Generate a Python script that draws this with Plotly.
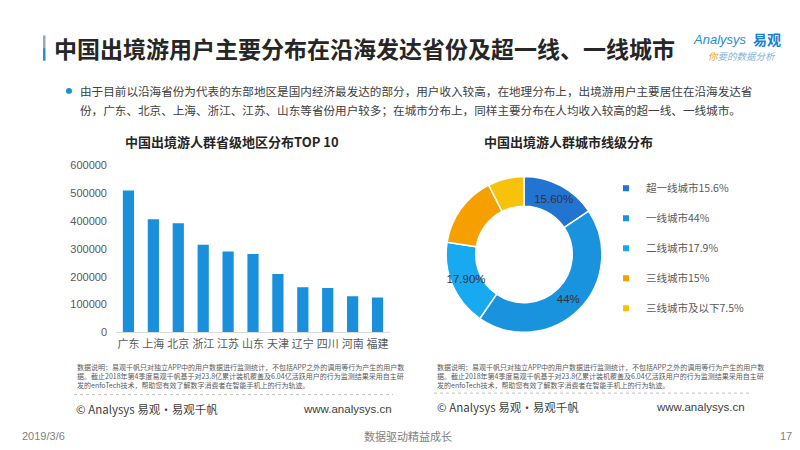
import plotly.graph_objects as go

# ---------------- data ----------------
provinces = ["广东", "上海", "北京", "浙江", "江苏", "山东", "天津", "辽宁", "四川", "河南", "福建"]
province_users = [510000, 407000, 392000, 315000, 291000, 282000, 210000, 162000, 159000, 130000, 125000]
y_tick_values = [0, 100000, 200000, 300000, 400000, 500000, 600000]

tier_labels = ["超一线城市15.6%", "一线城市44%", "二线城市17.9%", "三线城市15%", "三线城市及以下7.5%"]
tier_shares = [15.6, 44, 17.9, 15, 7.5]
tier_slice_text = ["15.60%", "44%", "17.90%", "", ""]
tier_colors = ["#2174d0", "#1a93df", "#17aaf0", "#f5a000", "#f8c20a"]

bar_title = "中国出境游人群省级地区分布TOP 10"
pie_title = "中国出境游人群城市线级分布"
main_title = "中国出境游用户主要分布在沿海发达省份及超一线、一线城市"
bullet_lines = [
    "由于目前以沿海省份为代表的东部地区是国内经济最发达的部分，用户收入较高，在地理分布上，出境游用户主要居住在沿海发达省",
    "份，广东、北京、上海、浙江、江苏、山东等省份用户较多；在城市分布上，同样主要分布在人均收入较高的超一线、一线城市。",
]
note_lines = [
    "数据说明：易观千帆只对独立APP中的用户数据进行监测统计，不包括APP之外的调用等行为产生的用户数",
    "据。截止2018年第4季度易观千帆基于对23.8亿累计装机覆盖及6.04亿活跃用户的行为监测结果采用自主研",
    "发的enfoTech技术，帮助您有效了解数字消费者在智能手机上的行为轨迹。",
]

W, H = 800, 450
def px(v):
    return v / W
def py(v):
    return 1 - v / H

CJK = "Noto Sans CJK SC, Liberation Sans, sans-serif"
NUM = "Liberation Sans, Noto Sans CJK SC, sans-serif"

fig = go.Figure()

fig.add_trace(go.Bar(
    x=provinces, y=province_users,
    marker=dict(color="#1a8fdc", line=dict(width=0)),
    showlegend=False, hoverinfo="x+y",
))

fig.add_trace(go.Pie(
    labels=tier_labels, values=tier_shares,
    text=tier_slice_text, textinfo="text",
    textposition="inside", insidetextorientation="horizontal",
    textfont=dict(size=11.5, color="#333333", family=NUM),
    marker=dict(colors=tier_colors, line=dict(color="white", width=1.5)),
    hole=0.62, sort=False, direction="clockwise", rotation=0,
    domain=dict(x=[px(436), px(596)], y=[py(327), py(167)]),
    showlegend=False,
))

# legend entries (one group per tier so they can be spaced like the original)
for i, (lab, col) in enumerate(zip(tier_labels, tier_colors)):
    fig.add_trace(go.Scatter(
        x=[None], y=[None], mode="markers", name=lab,
        marker=dict(symbol="square", size=6, color=col),
        legendgroup=f"g{i}", showlegend=True, hoverinfo="skip",
    ))

fig.update_layout(
    width=W, height=H,
    margin=dict(l=0, r=0, t=0, b=0),
    paper_bgcolor="white", plot_bgcolor="white",
    font=dict(family=NUM, color="#595959"),
    bargap=0.55,
    uniformtext=dict(minsize=11, mode="show"),
    xaxis=dict(
        domain=[px(108), px(382)], type="category",
        showline=True, linecolor="#d9d9d9", linewidth=1,
        showgrid=False, zeroline=False, ticks="",
        tickfont=dict(size=11, color="#595959", family=CJK),
        ticklabelstandoff=2, fixedrange=True,
    ),
    yaxis=dict(
        domain=[py(327), py(155.7)], range=[0, 600000],
        tickvals=y_tick_values, tickformat="d",
        showline=False, showgrid=False, zeroline=False, ticks="",
        tickfont=dict(size=11, color="#595959", family=NUM),
        ticklabelstandoff=8, fixedrange=True,
    ),
    legend=dict(
        x=px(598), y=py(164), xanchor="left", yanchor="top",
        tracegroupgap=11, bgcolor="rgba(0,0,0,0)",
        font=dict(size=10.5, color="#595959", family=CJK),
        itemclick=False, itemdoubleclick=False,
    ),
)

shapes = [
    # title accent bar
    dict(type="rect", xref="paper", yref="paper", x0=px(35), x1=px(37.5), y0=py(35), y1=py(22),
         fillcolor="#9aa6b2", line=dict(width=0)),
    dict(type="rect", xref="paper", yref="paper", x0=px(35), x1=px(37.5), y0=py(48), y1=py(35),
         fillcolor="#2a8fd8", line=dict(width=0)),
    # bullet dot
    dict(type="circle", xref="paper", yref="paper", x0=px(58), x1=px(64), y0=py(82), y1=py(76),
         fillcolor="#1a8fdc", line=dict(width=0)),
    # dotted separators
    dict(type="line", xref="paper", yref="paper", x0=px(66), x1=px(385), y0=py(391), y1=py(391),
         line=dict(color="#c0c0c0", width=1, dash="dot")),
    dict(type="line", xref="paper", yref="paper", x0=px(426), x1=px(741), y0=py(389.5), y1=py(389.5),
         line=dict(color="#c0c0c0", width=1, dash="dot")),
]

ann = []
def text(x, y, s, size, color="#595959", family=CJK, xanchor="left", **kw):
    ann.append(dict(x=px(x), y=py(y), xref="paper", yref="paper", text=s, showarrow=False,
                    xanchor=xanchor, yanchor="middle", align="left",
                    font=dict(size=size, color=color, family=family), **kw))

text(44, 35, "<b>" + main_title + "</b>", 23, color="#262626")
# logo
text(683, 26, "<i>Analysys</i>", 13, color="#1a8fd8", family=NUM)
text(743, 26, "<b>易观</b>", 14, color="#1a7fd0")
text(698, 43, "<i><span style='color:#f0a030'>你</span>要的数据分析</i>", 9.5, color="#80b4dc")

text(70, 79, bullet_lines[0], 11.6, color="#404040")
text(70, 99, bullet_lines[1], 11.6, color="#404040")

text(224, 131, "<b>" + bar_title + "</b>", 13, color="#262626", xanchor="center")
text(560, 131, "<b>" + pie_title + "</b>", 13, color="#262626", xanchor="center")

note_block = "<br>".join(note_lines)
text(66.5, 372, note_block, 7, color="#595959")
text(427, 372, note_block, 7, color="#595959")

text(66, 406, "© Analysys 易观·易观千帆", 11.5, color="#404040")
text(386, 406, "www.analysys.cn", 11.5, color="#404040", family=NUM, xanchor="right")
text(427, 403.5, "© Analysys 易观·易观千帆", 11.5, color="#404040")
text(739, 403.5, "www.analysys.cn", 11.5, color="#404040", family=NUM, xanchor="right")

text(12, 434, "2019/3/6", 11, color="#7f7f7f", family=NUM)
text(400, 434, "数据驱动精益成长", 11, color="#7f7f7f", xanchor="center")
text(786, 434, "17", 11, color="#7f7f7f", family=NUM, xanchor="right")

fig.update_layout(shapes=shapes, annotations=ann)

fig.write_html("out.html")
